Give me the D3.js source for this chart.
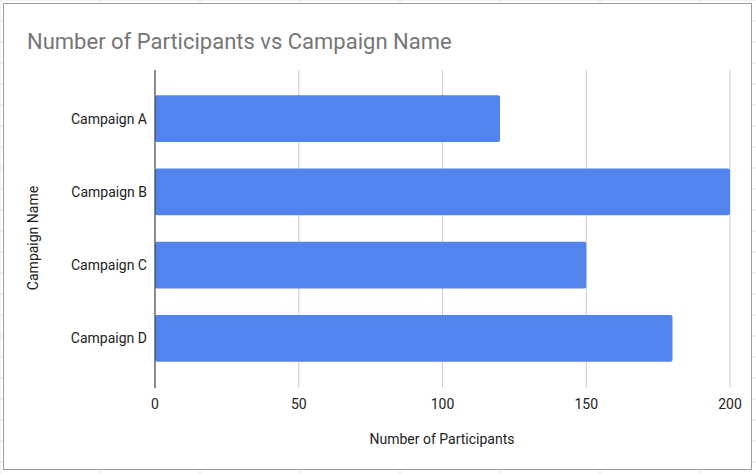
<!DOCTYPE html>
<html><head><meta charset="utf-8">
<script src="https://cdn.jsdelivr.net/npm/d3@7"></script>
<style>body{margin:0;background:#fff;}svg{display:block;font-family:Roboto,Arial,sans-serif;}</style>
</head><body><svg id="c" width="756" height="474"></svg>
<script>
const categories = ["Campaign A","Campaign B","Campaign C","Campaign D"];
const participants = [120,200,150,180];
const xTicks = [0,50,100,150,200];

const svg = d3.select("#c");
// spreadsheet background grid
const bg = svg.append("g");
[0,100,200,300,400,500,600,700].forEach(x=>bg.append("line").attr("x1",x).attr("x2",x).attr("y1",0).attr("y2",474).attr("stroke","#e2e2e2"));
[0,21,42,63,84,105,126,147,168,189,210,231,252,273,294,315,336,357,378,399,420,441,462].forEach(y=>bg.append("line").attr("x1",0).attr("x2",756).attr("y1",y).attr("y2",y).attr("stroke","#e2e2e2"));
svg.append("rect").attr("x",3.5).attr("y",3.5).attr("width",748).attr("height",466).attr("fill","#fff").attr("stroke","#9e9e9e");

svg.append("text").attr("x",27).attr("y",49).attr("font-size",22).attr("fill","#757575").text("Number of Participants vs Campaign Name");

const x = d3.scaleLinear().domain([0,200]).range([155,730]);
const y = d3.scaleBand().domain(categories).range([82,375]).paddingInner(0.36).paddingOuter(0.18);

xTicks.forEach(t=>{
  svg.append("line").attr("x1",x(t)).attr("x2",x(t)).attr("y1",70).attr("y2",388).attr("stroke","#cccccc");
  svg.append("text").attr("x",x(t)).attr("y",409).attr("text-anchor","middle").attr("font-size",14).attr("fill","#222").text(t);
});
svg.selectAll(".bar").data(categories).enter().append("rect")
  .attr("x",x(0)).attr("y",d=>y(d)).attr("width",(d,i)=>x(participants[i])-x(0)).attr("height",y.bandwidth())
  .attr("rx",2).attr("fill","#5383ec");
svg.append("line").attr("x1",x(0)).attr("x2",x(0)).attr("y1",70).attr("y2",388).attr("stroke","#333");
categories.forEach(c=>svg.append("text").attr("x",147).attr("y",y(c)+y.bandwidth()/2+5).attr("text-anchor","end").attr("font-size",14).attr("fill","#222").text(c));
svg.append("text").attr("x",442).attr("y",444).attr("text-anchor","middle").attr("font-size",14).attr("fill","#222").text("Number of Participants");
svg.append("text").attr("transform","translate(38,238) rotate(-90)").attr("text-anchor","middle").attr("font-size",14).attr("fill","#222").text("Campaign Name");
</script></body></html>
